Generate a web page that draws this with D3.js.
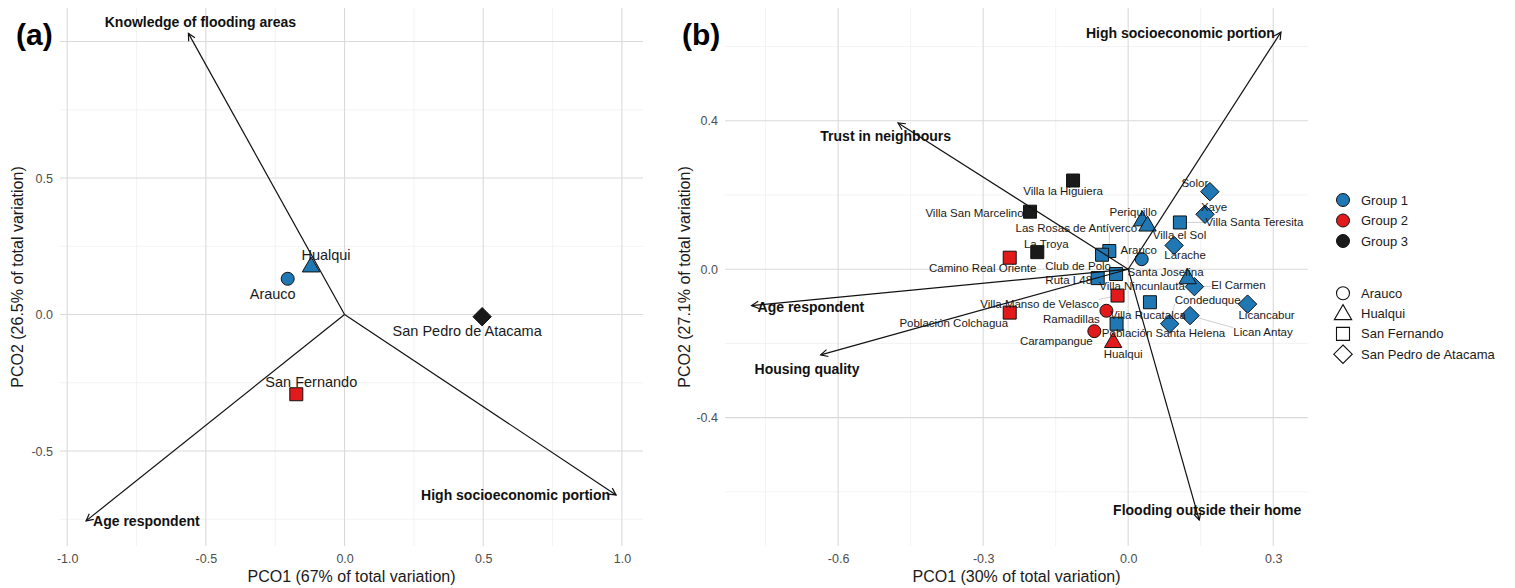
<!DOCTYPE html>
<html>
<head>
<meta charset="utf-8" />
<title>PCO biplots</title>
<style>
  body { margin: 0; background: #fff; }
  text { font-family: "Liberation Sans", Arial, sans-serif; }
  .grid-major { stroke: #dadada; stroke-width: 1.1px; }
  .grid-minor { stroke: #eeeeee; stroke-width: 0.7px; }
  .tick text { font-size: 12.5px; fill: #4d4d4d; }
  .axis-title { font-size: 16px; fill: #1a1a1a; }
  .vec { stroke: #111; stroke-width: 1.2px; }
  .vec-label { font-size: 14px; font-weight: bold; fill: #111; }
  .pt { stroke: #111; stroke-width: 1px; }
  .pt-label { fill: #1a1a1a; }
  .seg { stroke: #b0b0b0; stroke-width: 0.6px; }
  .panel-tag { font-size: 30px; font-weight: bold; fill: #000; }
  .legend text { font-size: 13px; fill: #1a1a1a; }
</style>
</head>
<body>
<script src="https://cdn.jsdelivr.net/npm/d3@7"></script>
<script>
// shared
var groupNames = ["Group 1", "Group 2", "Group 3"];
var groupColors = ["#1f78b4", "#e31a1c", "#1a1a1a"];
var municipalities = ["Arauco", "Hualqui", "San Fernando", "San Pedro de Atacama"];

// panel (a): municipalities
var aNames = ["Arauco", "Hualqui", "San Fernando", "San Pedro de Atacama"];
var aPco1 = [-0.205, -0.121, -0.174, 0.496];
var aPco2 = [0.131, 0.178, -0.292, -0.008];
var aGroup = [1, 1, 2, 3];
var aMuni = [0, 1, 2, 3];
var aVecNames = ["Knowledge of flooding areas", "Age respondent", "High socioeconomic portion"];
var aVec1 = [-0.563, -0.932, 0.979];
var aVec2 = [1.030, -0.756, -0.661];

// panel (b): neighbourhoods
var bNames = ["Solor", "Xaye", "Larache", "El Carmen", "Licancabur", "Lican Antay", "Condeduque",
  "Periquillo", "Villa el Sol", "Santa Josefina",
  "Las Rosas de Antíverco", "Club de Polo", "Ruta L48", "Villa Nincunlauta", "Villa Rucatalca",
  "Población Santa Helena", "Villa Santa Teresita",
  "Villa la Higuiera", "Villa San Marcelino", "La Troya",
  "Camino Real Oriente", "Población Colchagua", "Villa Manso de Velasco",
  "Ramadillas", "Carampangue", "Arauco", "Hualqui"];
var bPco1 = [0.169, 0.159, 0.095, 0.137, 0.247, 0.128, 0.086,
  0.029, 0.040, 0.123,
  -0.039, -0.054, -0.063, -0.025, 0.045,
  -0.024, 0.107,
  -0.114, -0.203, -0.188,
  -0.245, -0.245, -0.022,
  -0.045, -0.070, 0.028, -0.031];
var bPco2 = [0.209, 0.148, 0.064, -0.047, -0.094, -0.125, -0.147,
  0.133, 0.119, -0.023,
  0.049, 0.039, -0.024, -0.013, -0.089,
  -0.147, 0.126,
  0.239, 0.155, 0.046,
  0.031, -0.117, -0.071,
  -0.112, -0.167, 0.027, -0.195];
var bGroup = [1, 1, 1, 1, 1, 1, 1, 1, 1, 1, 1, 1, 1, 1, 1, 1, 1, 3, 3, 3, 2, 2, 2, 2, 2, 1, 2];
var bMuni = [3, 3, 3, 3, 3, 3, 3, 1, 1, 1, 2, 2, 2, 2, 2, 2, 2, 2, 2, 2, 2, 2, 2, 0, 0, 0, 1];
var bVecNames = ["High socioeconomic portion", "Trust in neighbours", "Age respondent",
  "Housing quality", "Flooding outside their home"];
var bVec1 = [0.316, -0.476, -0.779, -0.636, 0.147];
var bVec2 = [0.639, 0.394, -0.098, -0.231, -0.676];

// label placement (pixel offsets of label centre from its mark, like ggrepel output)
var aLabelOffset = [[-15, 15], [15, -11], [15, -12.6], [-15, 14.3]];
var aVecLabel = [["middle", 12, -11.6], ["start", 7, 0.7], ["end", -6, 0]];
var bLabelOffset = [[-15, -9], [9, -7], [11, 10], [44, -2], [19, 11], [73, 16], [38, -24],
  [-9, -8], [32, 10], [-22, -6],
  [-33, -23], [-24, 11], [-29, 2], [26, 12], [-2, 13], [47, 9], [74.5, 0],
  [-10, 10], [-55.5, 1], [9, -8],
  [-27, 10], [-56, 10], [-78, 8], [-35, 8], [-38, 10], [-3, -9], [10, 12]];
var bVecLabel = [["end", -6, 1], ["middle", -12.4, 12.7], ["start", 6, 1.3],
  ["middle", -13.7, 14], ["middle", 8, -10]];

var svg = d3.select("body").append("svg")
  .attr("width", 1515)
  .attr("height", 588);

svg.append("defs").append("marker")
  .attr("id", "head")
  .attr("viewBox", "-10 -6 12 12")
  .attr("refX", 0).attr("refY", 0)
  .attr("markerWidth", 12).attr("markerHeight", 12)
  .attr("markerUnits", "userSpaceOnUse")
  .attr("orient", "auto")
  .append("path")
  .attr("d", "M-7,-3.6L0,0L-7,3.6")
  .attr("fill", "none")
  .attr("stroke", "#111")
  .attr("stroke-width", 1.2);

function shapePath(k) {
  if (k === 0) return "M6.5,0A6.5,6.5 0 1,1 -6.5,0A6.5,6.5 0 1,1 6.5,0Z";
  if (k === 1) return "M0,-9L8.7,6L-8.7,6Z";
  if (k === 2) return "M-6.5,-6.5H6.5V6.5H-6.5Z";
  return "M0,-9.2L9.2,0L0,9.2L-9.2,0Z";
}

var fmt = function(v) { return v.toFixed(1); };

function drawPanel(p) {
  var x = d3.scaleLinear().domain(p.xDomain).range([p.left, p.right]);
  var y = d3.scaleLinear().domain(p.yDomain).range([p.bottom, p.top]);
  var g = svg.append("g");

  // grid
  g.selectAll(".gxm").data(p.xMinor).enter().append("line").attr("class", "grid-minor")
    .attr("x1", x).attr("x2", x).attr("y1", p.top).attr("y2", p.bottom);
  g.selectAll(".gym").data(p.yMinor).enter().append("line").attr("class", "grid-minor")
    .attr("y1", y).attr("y2", y).attr("x1", p.left).attr("x2", p.right);
  g.selectAll(".gxM").data(p.xMajor).enter().append("line").attr("class", "grid-major")
    .attr("x1", x).attr("x2", x).attr("y1", p.top).attr("y2", p.bottom);
  g.selectAll(".gyM").data(p.yMajor).enter().append("line").attr("class", "grid-major")
    .attr("y1", y).attr("y2", y).attr("x1", p.left).attr("x2", p.right);

  // axes (labels only)
  var ax = g.append("g").attr("transform", "translate(0," + p.bottom + ")")
    .call(d3.axisBottom(x).tickValues(p.xMajor).tickSize(0).tickPadding(8).tickFormat(fmt));
  var ay = g.append("g").attr("transform", "translate(" + p.left + ",0)")
    .call(d3.axisLeft(y).tickValues(p.yLabels).tickSize(0).tickPadding(7).tickFormat(fmt));
  [ax, ay].forEach(function(a) {
    a.attr("font-size", null).attr("font-family", null);
    a.select(".domain").remove();
  });

  g.append("text").attr("class", "axis-title")
    .attr("x", (p.left + p.right) / 2).attr("y", 582)
    .attr("text-anchor", "middle").text(p.xTitle);
  g.append("text").attr("class", "axis-title")
    .attr("transform", "translate(" + p.yTitleX + "," + ((p.top + p.bottom) / 2) + ") rotate(-90)")
    .attr("text-anchor", "middle").text(p.yTitle);

  var pts = p.names.map(function(n, i) {
    return { name: n, px: x(p.pco1[i]), py: y(p.pco2[i]), group: p.group[i], muni: p.muni[i],
             off: p.offsets[i] };
  });

  var segLayer = g.append("g");
  var ptLayer = g.append("g");
  var vecLayer = g.append("g");
  var labLayer = g.append("g");

  ptLayer.selectAll("path").data(pts).enter().append("path")
    .attr("class", "pt")
    .attr("d", function(d) { return shapePath(d.muni); })
    .attr("transform", function(d) { return "translate(" + d.px + "," + d.py + ")"; })
    .attr("fill", function(d) { return groupColors[d.group - 1]; });

  var vecs = p.vecNames.map(function(n, i) {
    return { name: n, tx: x(p.vec1[i]), ty: y(p.vec2[i]), lab: p.vecLabel[i] };
  });
  vecLayer.selectAll("line").data(vecs).enter().append("line")
    .attr("class", "vec")
    .attr("x1", x(0)).attr("y1", y(0))
    .attr("x2", function(d) { return d.tx; })
    .attr("y2", function(d) { return d.ty; })
    .attr("marker-end", "url(#head)");
  vecLayer.selectAll("text").data(vecs).enter().append("text")
    .attr("class", "vec-label")
    .attr("x", function(d) { return d.tx + d.lab[1]; })
    .attr("y", function(d) { return d.ty + d.lab[2]; })
    .attr("dy", "0.35em")
    .attr("text-anchor", function(d) { return d.lab[0]; })
    .text(function(d) { return d.name; });

  var labels = labLayer.selectAll("text").data(pts).enter().append("text")
    .attr("class", "pt-label")
    .style("font-size", p.labelSize + "px")
    .attr("x", function(d) { return d.px + d.off[0]; })
    .attr("y", function(d) { return d.py + d.off[1]; })
    .attr("dy", "0.35em")
    .attr("text-anchor", "middle")
    .text(function(d) { return d.name; });

  // leader segments for labels pushed away from their mark
  labels.each(function(d) {
    var b = this.getBBox();
    var cx = Math.max(b.x, Math.min(d.px, b.x + b.width));
    var cy = Math.max(b.y + 2, Math.min(d.py, b.y + b.height - 2));
    var dist = Math.hypot(cx - d.px, cy - d.py);
    if (dist > 12) {
      segLayer.append("line").attr("class", "seg")
        .attr("x1", d.px).attr("y1", d.py).attr("x2", cx).attr("y2", cy);
    }
  });

  svg.append("text").attr("class", "panel-tag")
    .attr("x", p.tagX).attr("y", 45).text(p.tag);
}

drawPanel({
  left: 60, right: 643, top: 8, bottom: 546,
  xDomain: [-1.026, 1.076], yDomain: [-0.848, 1.123],
  xMajor: [-1, -0.5, 0, 0.5, 1], xMinor: [-0.75, -0.25, 0.25, 0.75],
  yMajor: [-0.5, 0, 0.5, 1], yMinor: [-0.75, -0.25, 0.25, 0.75], yLabels: [-0.5, 0, 0.5],
  xTitle: "PCO1 (67% of total variation)", yTitle: "PCO2 (26.5% of total variation)", yTitleX: 23,
  tag: "(a)", tagX: 16,
  names: aNames, pco1: aPco1, pco2: aPco2, group: aGroup, muni: aMuni, offsets: aLabelOffset,
  labelSize: 14.5,
  vecNames: aVecNames, vec1: aVec1, vec2: aVec2, vecLabel: aVecLabel
});

drawPanel({
  left: 725, right: 1308, top: 8, bottom: 546,
  xDomain: [-0.834, 0.372], yDomain: [-0.746, 0.704],
  xMajor: [-0.6, -0.3, 0, 0.3], xMinor: [-0.75, -0.45, -0.15, 0.15],
  yMajor: [-0.4, 0, 0.4], yMinor: [-0.6, -0.2, 0.2, 0.6], yLabels: [-0.4, 0, 0.4],
  xTitle: "PCO1 (30% of total variation)", yTitle: "PCO2 (27.1% of total variation)", yTitleX: 690,
  tag: "(b)", tagX: 682,
  names: bNames, pco1: bPco1, pco2: bPco2, group: bGroup, muni: bMuni, offsets: bLabelOffset,
  labelSize: 11.5,
  vecNames: bVecNames, vec1: bVec1, vec2: bVec2, vecLabel: bVecLabel
});

// legends
var legend = svg.append("g").attr("class", "legend").attr("transform", "translate(1343,200)");
var lg = legend.selectAll(".lgroup").data(groupNames).enter().append("g")
  .attr("transform", function(d, i) { return "translate(0," + (i * 20.5) + ")"; });
lg.append("path").attr("class", "pt").attr("d", shapePath(0))
  .attr("fill", function(d, i) { return groupColors[i]; });
lg.append("text").attr("x", 18).attr("dy", "0.35em").text(function(d) { return d; });

var ls = legend.selectAll(".lshape").data(municipalities).enter().append("g")
  .attr("transform", function(d, i) { return "translate(0," + (93.3 + i * 20.3) + ")"; });
ls.append("path").attr("d", function(d, i) { return shapePath(i); })
  .attr("fill", "#fff").attr("stroke", "#111").attr("stroke-width", 1.1);
ls.append("text").attr("x", 18).attr("dy", "0.35em").text(function(d) { return d; });
</script>
</body>
</html>
